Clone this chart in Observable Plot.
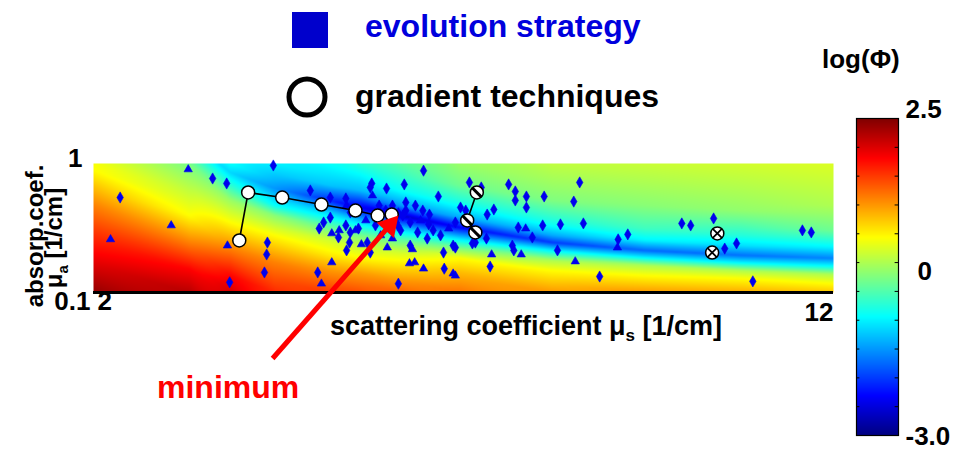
<!DOCTYPE html>
<html><head><meta charset="utf-8">
<script src="https://cdn.jsdelivr.net/npm/d3@7"></script>
<script src="https://cdn.jsdelivr.net/npm/@observablehq/plot@0.6"></script>
<style>
html,body{margin:0;padding:0;background:#fff;}
#wrap{position:relative;width:953px;height:450px;overflow:hidden;font-family:"Liberation Sans",Arial,sans-serif;}
#wrap > *{position:absolute;left:0;top:0;}
</style></head><body><div id="wrap"></div>
<script>
// ---------- data ----------
// log(Phi) field: sampled column profiles (scattering coef ms, absorption mua -> log Phi)
const fieldMs = [2, 3.3, 3.85, 4.45, 5.2, 5.6, 6.15, 6.95, 8.2, 9.45, 10.75, 12];
const fieldMua = [
  [2.5, 1.0, 0.88, 0.675, 0.472, 0.303, 0.204, 0.143, 0.1],
  [1.51, 1.0, 0.618, 0.395, 0.244, 0.153, 0.1],
  [1.0, 0.852, 0.675, 0.517, 0.349, 0.219, 0.135, 0.1],
  [1.0, 0.64, 0.472, 0.395, 0.277, 0.171, 0.1],
  [1.0, 0.675, 0.517, 0.417, 0.331, 0.253, 0.194, 0.148, 0.1],
  [1.0, 0.618, 0.456, 0.349, 0.277, 0.231, 0.187, 0.143, 0.1],
  [1.0, 0.618, 0.472, 0.395, 0.313, 0.253, 0.204, 0.171, 0.128, 0.1],
  [1.0, 0.675, 0.472, 0.381, 0.319, 0.262, 0.219, 0.184, 0.143, 0.1],
  [1.0, 0.517, 0.331, 0.277, 0.244, 0.212, 0.177, 0.148, 0.1],
  [1.0, 0.472, 0.313, 0.253, 0.212, 0.187, 0.162, 0.135, 0.1],
  [1.0, 0.432, 0.277, 0.231, 0.194, 0.171, 0.148, 0.128, 0.1],
  [1.0, 0.472, 0.303, 0.223, 0.184, 0.159, 0.138, 0.117, 0.1]
];
const fieldLogPhi = [
  [-0.3, 0.4, 0.45, 0.75, 1.12, 1.5, 1.8, 2.1, 2.4],
  [-1.0, -0.3, 0.1, 0.44, 1.12, 1.8, 2.2],
  [-0.9, -1.15, -0.7, -0.1, 0.44, 1.12, 1.8, 2.05],
  [-1.0, -1.5, -0.9, -0.2, 0.44, 1.12, 1.6],
  [-0.9, -1.25, -2.1, -1.2, -0.5, 0.2, 0.55, 1.0, 1.5],
  [-0.7, -1.3, -2.4, -1.1, -0.3, 0.1, 0.44, 0.95, 1.4],
  [-0.45, -0.9, -1.5, -2.6, -1.2, -0.4, 0.2, 0.5, 0.95, 1.3],
  [-0.1, -0.35, -0.9, -1.4, -2.3, -1.1, -0.25, 0.44, 0.8, 1.2],
  [0.1, -0.25, -0.9, -1.4, -2.0, -1.0, 0.0, 0.44, 1.0],
  [0.15, -0.2, -0.6, -1.0, -1.75, -1.0, 0.0, 0.44, 1.0],
  [0.2, -0.15, -0.75, -1.1, -1.7, -1.0, 0.0, 0.44, 0.9],
  [0.25, 0.0, -0.35, -1.0, -1.6, -0.9, 0.0, 0.44, 0.75]
];

// evolution strategy samples
const esMs = [2.36,2.23,3.05,3.28,3.61,3.80,3.81,3.84,4.35,4.34,4.31,4.43,6.46,5.76,5.96,6.20,6.66,6.45,6.54,6.89,
  5.05,5.11,5.22,5.31,5.42,5.47,5.46,5.42,5.32,5.70,5.62,5.74,5.97,5.88,6.11,6.18,6.22,6.28,6.38,6.28,
  6.31,6.27,6.34,6.46,6.51,6.59,6.69,6.73,6.86,6.86,6.74,5.22,5.03,5.08,6.12,7.08,7.24,6.96,7.03,7.32,
  7.41,7.12,7.16,6.89,7.61,7.70,7.70,7.85,7.85,8.09,8.49,8.57,7.74,7.84,8.07,8.31,8.62,7.93,7.66,7.68,
  7.78,7.38,7.36,8.27,8.51,9.09,9.22,9.08,8.84,6.89,7.31,9.95,10.07,10.38,10.53,10.69,10.91,11.58,11.70,5.74,
  5.86,5.95,6.04,6.12,6.22,6.08,5.99,5.81,5.68,5.58,6.42,6.53,6.35,6.15,6.04,5.41,4.93,5.20,5.41,5.54,
  5.20,5.47,5.77,7.00,7.11,6.80];
const esMua = [0.545,0.258,0.331,0.90,0.765,0.70,0.231,0.12,0.244,0.197,0.143,0.965,0.88,0.70,0.64,0.688,0.555,0.432,0.402,0.349,
  0.313,0.349,0.287,0.267,0.472,0.292,0.244,0.212,0.303,0.244,0.236,0.204,0.223,0.277,0.331,0.395,0.499,0.349,0.292,0.231,
  0.216,0.168,0.171,0.153,0.262,0.303,0.277,0.204,0.231,0.14,0.153,0.171,0.143,0.117,0.117,0.713,0.652,0.456,0.432,0.402,
  0.44,0.24,0.244,0.223,0.688,0.607,0.517,0.555,0.456,0.555,0.507,0.713,0.319,0.313,0.331,0.337,0.343,0.267,0.231,0.212,
  0.197,0.197,0.159,0.212,0.174,0.258,0.282,0.223,0.133,0.135,0.262,0.343,0.331,0.375,0.219,0.24,0.122,0.303,0.292,0.652,
  0.472,0.432,0.472,0.417,0.432,0.362,0.337,0.331,0.362,0.313,0.362,0.337,0.472,0.303,0.262,0.331,0.618,0.545,0.536,0.303,
  0.381,0.417,0.565,0.349,0.313,0.313];
const esShape = "dtttddtdddddddddddddddtdtdddtdtdttddddddttttdddddtdtdtdddddddddddddddddddtddddddttddtddtdtddddddddd" +
  "ddddtdtddtdtdddtddddtddtddt";

// gradient techniques (three runs)
const gradAMs = [3.97, 4.09, 4.55, 5.08, 5.54, 5.84, 6.03];
const gradAMua = [0.253, 0.596, 0.545, 0.481, 0.432, 0.395, 0.402];
const gradBMs = [7.18, 7.05, 7.16];
const gradBMua = [0.596, 0.362, 0.292];
const gradCMs = [10.43, 10.36];
const gradCMua = [0.287, 0.204];

// "minimum" annotation arrow (from, to)
const arrowFrom = {ms: 4.42, mua: 0.0308};
const arrowTo = {ms: 6.12, mua: 0.395};

// axes / colorbar ticks
const xTicks = [2, 12], xTickLabels = ["2", "12"];
const yTicks = [1, 0.1], yTickLabels = ["1", "0.1"];
const cbMinor = [-2.5, -2, -1.5, -1, -0.5, 0, 0.5, 1, 1.5, 2];
const cbLabelValues = [2.5, 0, -3.0], cbLabels = ["2.5", "0", "-3.0"];

// jet colormap
const jetDomain = [-3, -2.3125, -0.9375, 0.4375, 1.8125, 2.5];
const jetRange = ["#000080", "#0000ff", "#00ffff", "#ffff00", "#ff0000", "#800000"];

// ---------- build ----------
const L10 = Math.log10;
const fieldLog = fieldMua.map(c => c.map(L10));
const valleyLog = fieldLog.map((c, i) => c[d3.minIndex(fieldLogPhi[i])]);
function profile(i, lm) {
  const L = fieldLog[i], P = fieldLogPhi[i];
  if (lm >= L[0]) return P[0];
  if (lm <= L[L.length - 1]) return P[P.length - 1];
  for (let k = 0; k < L.length - 1; k++) {
    if (lm <= L[k] && lm >= L[k + 1]) {
      const t = (L[k] - lm) / (L[k] - L[k + 1]);
      return P[k] + t * (P[k + 1] - P[k]);
    }
  }
  return P[P.length - 1];
}
function field(ms, lm) {
  let i = d3.bisectRight(fieldMs, ms) - 1;
  i = Math.max(0, Math.min(fieldMs.length - 2, i));
  const t = Math.max(0, Math.min(1, (ms - fieldMs[i]) / (fieldMs[i + 1] - fieldMs[i])));
  const V = valleyLog[i] + t * (valleyLog[i + 1] - valleyLog[i]);
  const d = lm - V;
  return (1 - t) * profile(i, valleyLog[i] + d) + t * profile(i + 1, valleyLog[i + 1] + d);
}

const es = esMs.map((m, i) => ({ms: m, lm: L10(esMua[i]), s: esShape[i]}));
const gA = gradAMs.map((m, i) => ({ms: m, lm: L10(gradAMua[i])}));
const gB = gradBMs.map((m, i) => ({ms: m, lm: L10(gradBMua[i])}));
const gC = gradCMs.map((m, i) => ({ms: m, lm: L10(gradCMua[i])}));
const arrow = [{x1: arrowFrom.ms, y1: L10(arrowFrom.mua), x2: arrowTo.ms, y2: L10(arrowTo.mua)}];

const FONT = "Liberation Sans, Arial, sans-serif";
const colorSpec = {type: "linear", domain: jetDomain, range: jetRange, interpolate: "rgb", clamp: true};
const slash = {draw(ctx, size) { const r = Math.sqrt(size / Math.PI) * 0.72; ctx.moveTo(-r, -r); ctx.lineTo(r, r); }};
const tickText = {fontSize: 26, fontWeight: "bold", fontFamily: FONT, fill: "black"};

const main = Plot.plot({
  width: 953, height: 450,
  marginLeft: 93, marginRight: 120, marginTop: 163, marginBottom: 158,
  x: {domain: [2, 12], axis: null},
  y: {domain: [-1, 0], axis: null},
  color: colorSpec,
  style: {background: "transparent", overflow: "visible"},
  marks: [
    Plot.raster({x1: 2, x2: 12, y1: -1, y2: 0, fill: (x, y) => field(x, y), pixelSize: 1}),
    Plot.ruleY([-1], {stroke: "black", strokeWidth: 3}),
    Plot.dot(es.filter(d => d.s === "d"), {x: "ms", y: "lm", symbol: "diamond", r: 3.4, fill: "#0000ee", stroke: "#0000ee", strokeWidth: 0.6}),
    Plot.dot(es.filter(d => d.s === "t"), {x: "ms", y: "lm", symbol: "triangle", r: 3.1, fill: "#0000ee", stroke: "#0000ee", strokeWidth: 0.6}),
    Plot.line(gA, {x: "ms", y: "lm", stroke: "black", strokeWidth: 1.6}),
    Plot.line(gB, {x: "ms", y: "lm", stroke: "black", strokeWidth: 1.6}),
    Plot.dot(gA, {x: "ms", y: "lm", r: 6.5, fill: "white", stroke: "black", strokeWidth: 1.5}),
    Plot.dot(gB, {x: "ms", y: "lm", r: 6.5, fill: "white", stroke: "black", strokeWidth: 1.5}),
    Plot.dot(gB, {x: "ms", y: "lm", r: 6.5, symbol: slash, fill: "none", stroke: "black", strokeWidth: 3}),
    Plot.dot(gC, {x: "ms", y: "lm", r: 6.5, fill: "white", stroke: "black", strokeWidth: 1.5}),
    Plot.dot(gC, {x: "ms", y: "lm", r: 4.2, symbol: "times", fill: "none", stroke: "black", strokeWidth: 1.8}),
    Plot.arrow(arrow, {x1: "x1", y1: "y1", x2: "x2", y2: "y2", stroke: "red", strokeWidth: 5, headLength: 0, insetEnd: 11, strokeLinecap: "butt"}),
    Plot.dot(arrow, {x: "x2", y: "y2", symbol: "triangle", r: 8.5, fill: "red", rotate: 41.4, dx: -8.7, dy: 9.9}),
    Plot.text([yTicks[0]], {y: d => L10(d), text: () => yTickLabels[0], frameAnchor: "left", textAnchor: "end", dx: -11, dy: -5, ...tickText}),
    Plot.text([yTicks[1]], {y: d => L10(d), text: () => yTickLabels[1], frameAnchor: "left", textAnchor: "end", dx: -3, dy: 9, ...tickText}),
    Plot.text([xTicks[0]], {x: d => d, text: () => xTickLabels[0], frameAnchor: "bottom", textAnchor: "start", dx: 4, dy: 17, ...tickText}),
    Plot.text([xTicks[1]], {x: d => d, text: () => xTickLabels[1], frameAnchor: "bottom", textAnchor: "end", dx: 0, dy: 28, ...tickText})
  ]
});

const cbar = Plot.plot({
  width: 120, height: 450,
  marginLeft: 16, marginRight: 62, marginTop: 118, marginBottom: 15,
  x: {domain: [0, 1], axis: null},
  y: {domain: [-3, 2.5], axis: null},
  color: colorSpec,
  style: {background: "transparent", overflow: "visible"},
  marks: [
    Plot.raster({x1: 0, x2: 1, y1: -3, y2: 2.5, fill: (x, y) => y, pixelSize: 1}),
    Plot.ruleY(cbMinor, {x1: 0, x2: 0.08, stroke: "black", strokeWidth: 1}),
    Plot.ruleY(cbMinor, {x1: 0.92, x2: 1, stroke: "black", strokeWidth: 1}),
    Plot.frame({stroke: "black", strokeWidth: 1.2}),
    Plot.text([cbLabelValues[0]], {y: d => d, text: () => cbLabels[0], frameAnchor: "right", textAnchor: "start", dx: 7, dy: -9, ...tickText}),
    Plot.text([cbLabelValues[1]], {y: d => d, text: () => cbLabels[1], frameAnchor: "right", textAnchor: "start", dx: 19, dy: 9, ...tickText}),
    Plot.text([cbLabelValues[2]], {y: d => d, text: () => cbLabels[2], frameAnchor: "right", textAnchor: "start", dx: 7, dy: 1, ...tickText})
  ]
});
cbar.style.left = "840px";

const wrap = document.getElementById("wrap");
wrap.appendChild(main);
wrap.appendChild(cbar);

const overlay = `
<svg xmlns="http://www.w3.org/2000/svg" width="953" height="450" style="overflow:visible" font-family="${FONT}" font-weight="bold">
  <rect x="292" y="12" width="36" height="36" fill="#0000cc"/>
  <text x="365" y="37" font-size="32" fill="#0000dd">evolution strategy</text>
  <circle cx="307" cy="97" r="18" fill="white" stroke="black" stroke-width="5"/>
  <text x="355" y="107" font-size="32" fill="black">gradient techniques</text>
  <text x="822" y="68" font-size="26" fill="black">log(Φ)</text>
  <text x="157" y="398" font-size="32" fill="#ff0000">minimum</text>
  <text x="330" y="335" font-size="27" fill="black">scattering coefficient μ<tspan font-size="17" dy="6">s</tspan><tspan dy="-6"> [1/cm]</tspan></text>
  <text transform="translate(43,236) rotate(-90)" text-anchor="middle" font-size="24" fill="black">absorp.coef.</text>
  <text transform="translate(62,238) rotate(-90)" text-anchor="middle" font-size="24" fill="black">μ<tspan font-size="15" dy="6">a</tspan><tspan dy="-6"> [1/cm]</tspan></text>
</svg>`;
const holder = document.createElement("div");
holder.innerHTML = overlay;
const ov = holder.firstElementChild;
ov.style.position = "absolute"; ov.style.left = "0px"; ov.style.top = "0px"; ov.style.pointerEvents = "none";
wrap.appendChild(ov);
</script></body></html>
